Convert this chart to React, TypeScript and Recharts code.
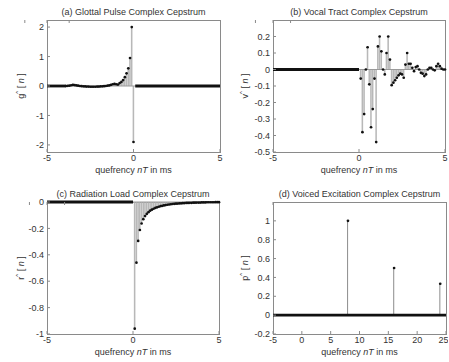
import React from 'react'
import { ComposedChart, XAxis, YAxis, Bar, Scatter, Line } from 'recharts'

const T = 0.1 // sampling period, ms

// (a) glottal pulse: anticausal samples from -3.9 ms up to 0 ms
const glottalStart = -3.9
const glottalValues = [
  0, 0.005, 0.01, 0.025, 0.035, 0.03, 0.02, 0.01, 0, -0.005,
  -0.01, -0.015, -0.02, -0.02, -0.025, -0.025, -0.025, -0.025, -0.02, -0.02,
  -0.015, -0.01, -0.005, 0, 0.01, 0.02, 0.04, 0.06, 0.07, 0.06,
  0.05, 0.1, 0.14, 0.2, 0.3, 0.43, 0.6, 0.95, 2.0, -1.9,
]
const glottalZero = [[-5, -3.9], [0.1, 5]]

// (b) vocal tract: samples from 0.1 ms to 5 ms
const vocalStart = 0.1
const vocalValues = [
  -0.055, -0.38, -0.27, 0, 0.135, -0.09, -0.35, -0.24, -0.055, -0.44,
  0.14, 0.2, 0.11, 0, -0.03, 0.1, 0.2, 0.06, -0.095, -0.08,
  -0.065, -0.05, -0.035, -0.025, -0.03, -0.05, 0.03, 0.1, 0.035, 0.035,
  0.01, -0.01, 0.015, 0.02, 0, -0.02, -0.025, -0.04, -0.03, 0,
  0.01, 0.01, 0, -0.005, 0.02, 0.035, 0.02, 0.005, 0, 0,
]
const vocalZero = [[-5, 0]]

// (c) radiation load: samples from 0.1 ms to 5 ms
const radiationStart = 0.1
const radiationValues = [
  -0.96, -0.46, -0.295, -0.212, -0.163, -0.13, -0.107, -0.09, -0.077, -0.066,
  -0.058, -0.051, -0.045, -0.04, -0.036, -0.032, -0.029, -0.026, -0.023, -0.021,
  -0.019, -0.017, -0.015, -0.014, -0.013, -0.012, -0.011, -0.01, -0.009, -0.008,
  -0.007, -0.007, -0.006, -0.006, -0.005, -0.005, -0.004, -0.004, -0.004, -0.003,
  -0.003, -0.003, -0.002, -0.002, -0.002, -0.002, -0.002, -0.001, -0.001, -0.001,
]
const radiationZero = [[-5, 0]]

// (d) voiced excitation: impulses at the pitch periods
const pulseTimes = [8, 16, 24]
const pulseValues = [1, 0.5, 0.333]
const pulseZero = [[-5, 25]]

const sampled = (start: number, values: number[]) =>
  values.map((v, i) => ({ t: +(start + i * T).toFixed(2), v }))

const glottalData = sampled(glottalStart, glottalValues)
const vocalData = sampled(vocalStart, vocalValues)
const radiationData = sampled(radiationStart, radiationValues)
const pulseData = pulseTimes.map((t, i) => ({ t, v: pulseValues[i] }))

const FONT = '"Liberation Sans", Arial, sans-serif'
const BOX = '#8a8a8a'
const TEXT = '#333'

interface PanelProps {
  left: number
  top: number
  plotLeft: number
  plotWidth: number
  title: string
  symbol: string
  data: { t: number; v: number }[]
  zeroRuns: number[][]
  stemWidth: number
  stemColor: string
  xDomain: [number, number]
  xTicks: number[]
  yDomain: [number, number]
  yTicks: number[]
}

function Dot(props: any) {
  if (props.cx == null || props.cy == null) return null
  return <circle cx={props.cx} cy={props.cy} r={1.35} fill="#111" />
}

function Panel(p: PanelProps) {
  const W = 224
  const H = 181
  const plotTop = 20
  const plotH = 132
  const yAxisW = 40
  const mid = p.plotLeft + p.plotWidth / 2
  const labelStyle: React.CSSProperties = { position: 'absolute', whiteSpace: 'nowrap', fontFamily: FONT, fontSize: 9, color: TEXT }
  return (
    <div style={{ position: 'absolute', left: p.left, top: p.top, width: W, height: H }}>
      {/* axes box sits under the svg so markers on the edge stay on top */}
      <div
        style={{
          position: 'absolute',
          left: p.plotLeft,
          top: plotTop,
          width: p.plotWidth + 1,
          height: plotH + 1,
          border: `1px solid ${BOX}`,
          boxSizing: 'border-box',
        }}
      />
      <ComposedChart
        width={W}
        height={H}
        data={p.data}
        margin={{
          top: plotTop - 1,
          right: W - p.plotLeft - p.plotWidth - 1,
          bottom: H - plotTop - plotH - 20,
          left: p.plotLeft - yAxisW,
        }}
      >
        <XAxis
          dataKey="t"
          type="number"
          domain={p.xDomain}
          ticks={p.xTicks}
          height={20}
          stroke={BOX}
          axisLine={false}
          tickSize={-3}
          tickMargin={6}
          tick={{ fill: TEXT, fontSize: 9, fontFamily: FONT }}
        />
        <XAxis
          xAxisId="top"
          orientation="top"
          type="number"
          domain={p.xDomain}
          ticks={p.xTicks}
          height={1}
          stroke={BOX}
          axisLine={false}
          tickSize={-3}
          tickFormatter={() => ''}
        />
        <YAxis
          type="number"
          domain={p.yDomain}
          ticks={p.yTicks}
          width={yAxisW}
          stroke={BOX}
          axisLine={false}
          tickSize={-3}
          tickMargin={6}
          interval={0}
          tick={{ fill: TEXT, fontSize: 9, fontFamily: FONT }}
        />
        <YAxis
          yAxisId="right"
          orientation="right"
          type="number"
          domain={p.yDomain}
          ticks={p.yTicks}
          width={1}
          stroke={BOX}
          axisLine={false}
          tickSize={-3}
          tickFormatter={() => ''}
        />
        <Line
          data={[{ t: p.xDomain[0], v: 0 }, { t: p.xDomain[1], v: 0 }]}
          dataKey="v"
          stroke="#9a9a9a"
          strokeWidth={1}
          dot={false}
          isAnimationActive={false}
        />
        <Bar dataKey="v" barSize={p.stemWidth} fill={p.stemColor} isAnimationActive={false} />
        {p.zeroRuns.map((r, i) => (
          <Line
            key={i}
            data={[{ t: r[0], v: 0 }, { t: r[1], v: 0 }]}
            dataKey="v"
            stroke="#111"
            strokeWidth={2.8}
            dot={false}
            isAnimationActive={false}
          />
        ))}
        <Scatter dataKey="v" shape={Dot} isAnimationActive={false} />
      </ComposedChart>
      <div style={{ ...labelStyle, left: mid, top: 12, transform: 'translate(-50%, -50%)' }}>
        {p.title}
      </div>
      <div style={{ ...labelStyle, left: mid, top: 170, transform: 'translate(-50%, -50%)' }}>
        quefrency <i>nT</i> in ms
      </div>
      <div style={{ ...labelStyle, left: 20, top: plotTop + plotH / 2, transform: 'translate(-50%, -50%) rotate(-90deg)' }}>
        {p.symbol}<sup style={{ fontSize: 6 }}>^</sup> [ <i>n</i> ]
      </div>
    </div>
  )
}

export default function App() {
  return (
    <div style={{ position: 'absolute', left: 0, top: 0, width: 449, height: 362, background: '#fff', overflow: 'hidden' }}>
      <Panel
        left={0} top={0} plotLeft={47} plotWidth={173}
        title="(a) Glottal Pulse Complex Cepstrum" symbol="g"
        data={glottalData} zeroRuns={glottalZero} stemWidth={2} stemColor="#b8b8b8"
        xDomain={[-5, 5]} xTicks={[-5, 0, 5]}
        yDomain={[-2.24, 2.24]} yTicks={[-2, -1, 0, 1, 2]}
      />
      <Panel
        left={224} top={0} plotLeft={49} plotWidth={172}
        title="(b) Vocal Tract Complex Cepstrum" symbol="v"
        data={vocalData} zeroRuns={vocalZero} stemWidth={2} stemColor="#b8b8b8"
        xDomain={[-5, 5]} xTicks={[-5, 0, 5]}
        yDomain={[-0.5, 0.3]} yTicks={[-0.5, -0.4, -0.3, -0.2, -0.1, 0, 0.1, 0.2]}
      />
      <Panel
        left={0} top={182} plotLeft={47} plotWidth={172}
        title="(c) Radiation Load Complex Cepstrum" symbol="r"
        data={radiationData} zeroRuns={radiationZero} stemWidth={2} stemColor="#b8b8b8"
        xDomain={[-5, 5]} xTicks={[-5, 0, 5]}
        yDomain={[-1, 0]} yTicks={[-1, -0.8, -0.6, -0.4, -0.2, 0]}
      />
      <Panel
        left={224} top={182} plotLeft={49} plotWidth={173}
        title="(d) Voiced Excitation Complex Cepstrum" symbol="p"
        data={pulseData} zeroRuns={pulseZero} stemWidth={1} stemColor="#8c8c8c"
        xDomain={[-5, 25]} xTicks={[-5, 0, 5, 10, 15, 20, 25]}
        yDomain={[-0.2, 1.2]} yTicks={[-0.2, 0, 0.2, 0.4, 0.6, 0.8, 1]}
      />
    </div>
  )
}
